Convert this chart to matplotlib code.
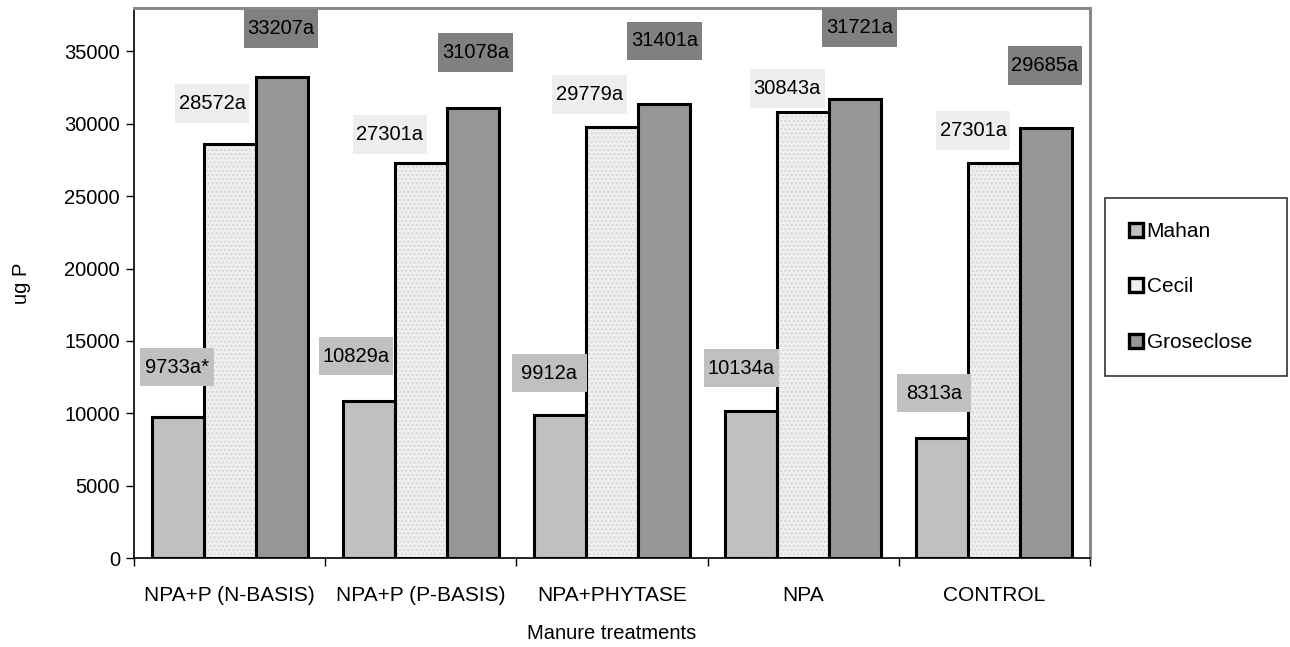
import numpy as np
import matplotlib
matplotlib.use("Agg")
import matplotlib.pyplot as plt
from matplotlib.patches import Patch, Rectangle

plt.rcParams['font.family'] = ['Liberation Sans', 'DejaVu Sans']

# data
treatments = ["NPA+P (N-BASIS)", "NPA+P (P-BASIS)", "NPA+PHYTASE", "NPA", "CONTROL"]
mahan = [9733, 10829, 9912, 10134, 8313]
cecil = [28572, 27301, 29779, 30843, 27301]
groseclose = [33207, 31078, 31401, 31721, 29685]
mahan_lbl = ["9733a*", "10829a", "9912a", "10134a", "8313a"]
cecil_lbl = ["28572a", "27301a", "29779a", "30843a", "27301a"]
grose_lbl = ["33207a", "31078a", "31401a", "31721a", "29685a"]

# where the (hand-moved) data labels sit
mahan_lx = [-0.275, 0.660, 1.673, 2.677, 3.685]
mahan_ly = [13180, 13940, 12770, 13110, 11390]
cecil_lx = [-0.092, 0.838, 1.882, 2.917, 3.889]
cecil_ly = [31400, 29260, 32020, 32440, 29540]
grose_lx = [0.268, 1.287, 2.274, 3.293, 4.265]
grose_ly = [36580, 34920, 35740, 36650, 34020]

c_mahan = '#c0c0c0'
c_cecil = '#efefef'
c_grose = '#969696'

fig = plt.figure(figsize=(12.9, 6.47), dpi=100)
ax = fig.add_axes([134/1290, 89/647, (1090-134)/1290, (558-8)/647])

x = np.arange(len(treatments))
w = 0.272
ax.bar(x - w, mahan, w, color=c_mahan, edgecolor='black', linewidth=2.2, zorder=3)
# speckled fill for Cecil: hatch layer, then outline
ax.bar(x, cecil, w, color=c_cecil, edgecolor='#d6d6d6', hatch='....', linewidth=0, zorder=2)
ax.bar(x, cecil, w, color='none', edgecolor='black', linewidth=2.2, zorder=3)
ax.bar(x + w, groseclose, w, color=c_grose, edgecolor='black', linewidth=2.2, zorder=3)

fs = 14.5
bw, bh = 0.39, 2650   # label box size in data units

def put_labels(xs, ys, texts, bg):
    for lx, ly, t in zip(xs, ys, texts):
        ax.add_patch(Rectangle((lx - bw / 2, ly - bh / 2), bw, bh, fc=bg, ec='none',
                               zorder=4, clip_on=False))
        ax.text(lx, ly, t, ha='center', va='center', fontsize=fs, zorder=5)

put_labels(mahan_lx, mahan_ly, mahan_lbl, '#c0c0c0')
put_labels(cecil_lx, cecil_ly, cecil_lbl, '#eeeeee')
put_labels(grose_lx, grose_ly, grose_lbl, '#808080')

ax.set_xlim(-0.5, len(treatments) - 0.5)
ax.set_ylim(0, 38000)
ax.set_yticks(np.arange(0, 35001, 5000))
ax.tick_params(axis='y', direction='out', length=6, width=1, labelsize=fs, pad=4)

# category boundaries as major ticks, names on minor ticks
ax.set_xticks(np.arange(-0.5, len(treatments), 1.0))
ax.set_xticklabels([])
ax.set_xticks(x, minor=True)
ax.set_xticklabels(treatments, minor=True, fontsize=15)
ax.tick_params(axis='x', which='major', direction='out', length=6, width=1)
ax.tick_params(axis='x', which='minor', length=0, pad=20)

for s in ['left', 'bottom']:
    ax.spines[s].set_color('black')
    ax.spines[s].set_linewidth(1.2)
for s in ['top', 'right']:
    ax.spines[s].set_color('#8a8a8a')
    ax.spines[s].set_linewidth(2.2)

ax.set_ylabel("ug P", fontsize=fs, labelpad=24)
ax.set_xlabel("Manure treatments", fontsize=fs, labelpad=14)

handles = [Patch(facecolor=c_mahan, edgecolor='black', linewidth=2.4),
           Patch(facecolor=c_cecil, edgecolor='black', linewidth=2.4),
           Patch(facecolor=c_grose, edgecolor='black', linewidth=2.4)]
leg = fig.legend(handles, ["Mahan", "Cecil", "Groseclose"],
                 loc='upper left',
                 bbox_to_anchor=(1105/1290, 0, (1287-1105)/1290, 1 - 198/647),
                 mode='expand', fontsize=15, frameon=True, fancybox=False,
                 handlelength=0.65, handleheight=0.65, handletextpad=0.2,
                 labelspacing=1.75, borderpad=1.15, borderaxespad=0)
leg.get_frame().set_edgecolor('black')
leg.get_frame().set_linewidth(1.2)

fig.savefig("out.png", dpi=100)
